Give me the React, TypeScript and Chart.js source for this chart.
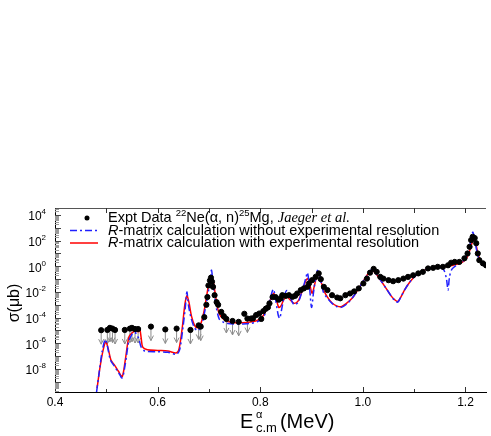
import React, { useEffect, useRef } from "react";
import { Chart, registerables } from "chart.js";

Chart.register(...registerables);

// ---------- data ----------
const redE = [0.482, 0.488, 0.494, 0.499, 0.503, 0.509, 0.516, 0.524, 0.531, 0.537, 0.544, 0.55, 0.557, 0.562, 0.565, 0.568, 0.571, 0.58, 0.6, 0.62, 0.637, 0.642, 0.648, 0.653, 0.657, 0.661, 0.666, 0.672, 0.677, 0.683, 0.69, 0.696, 0.701, 0.705, 0.709, 0.714, 0.72, 0.728, 0.737, 0.75, 0.765, 0.78, 0.795, 0.805, 0.812, 0.818, 0.823, 0.826, 0.83, 0.836, 0.84, 0.846, 0.852, 0.858, 0.866, 0.874, 0.882, 0.889, 0.893, 0.897, 0.901, 0.905, 0.91, 0.914, 0.918, 0.924, 0.931, 0.94, 0.95, 0.958, 0.968, 0.979, 0.99, 1.0, 1.008, 1.014, 1.018, 1.024, 1.035, 1.045, 1.055, 1.062, 1.068, 1.074, 1.082, 1.092, 1.104, 1.114, 1.125, 1.135, 1.15, 1.165, 1.178, 1.191, 1.2, 1.206, 1.211, 1.215, 1.218, 1.221, 1.225, 1.23, 1.236, 1.242];
const redV = [3.2e-10, 1.6e-8, 3.2e-7, 1.3e-6, 5e-7, 5e-8, 2e-8, 6.3e-9, 2.5e-9, 5e-8, 3.2e-6, 6.3e-6, 1e-5, 7.9e-6, 1.4e-5, 2.5e-6, 5e-7, 3.2e-7, 2.8e-7, 2.5e-7, 1.8e-7, 4e-7, 1.6e-5, 1e-3, 5e-3, 1.6e-3, 1.3e-4, 2.5e-5, 1.6e-5, 2.5e-5, 2.5e-4, 6.3e-3, 7.9e-2, 0.16, 5e-2, 2.5e-3, 2e-4, 7.9e-5, 5e-5, 4e-5, 4e-5, 4.5e-5, 6.3e-5, 1.3e-4, 4e-4, 1.6e-3, 5e-3, 7.9e-3, 4e-3, 6.3e-4, 7.9e-4, 2.5e-3, 4e-3, 2.5e-3, 1.3e-3, 2e-3, 1.3e-2, 7.9e-2, 0.11, 3.2e-2, 7.9e-3, 2.5e-2, 0.16, 0.28, 7.9e-2, 1.3e-2, 4e-3, 1.4e-3, 7.9e-4, 7.1e-4, 1.3e-3, 3.2e-3, 1.4e-2, 6.3e-2, 0.2, 0.4, 0.5, 0.32, 7.9e-2, 2e-2, 5e-3, 2.5e-3, 1.8e-3, 4e-3, 1.6e-2, 6.3e-2, 0.2, 0.37, 0.63, 0.79, 0.89, 1.0, 1.26, 1.8, 3.2, 8.9, 40, 100, 100, 40, 7.9, 2.2, 1.26, 0.89];

const blueE = [0.481, 0.486, 0.492, 0.498, 0.502, 0.508, 0.516, 0.524, 0.531, 0.537, 0.544, 0.55, 0.555, 0.558, 0.563, 0.568, 0.575, 0.6, 0.62, 0.637, 0.643, 0.649, 0.654, 0.657, 0.66, 0.665, 0.672, 0.678, 0.685, 0.692, 0.698, 0.702, 0.705, 0.708, 0.713, 0.72, 0.728, 0.737, 0.75, 0.765, 0.78, 0.795, 0.805, 0.812, 0.818, 0.823, 0.826, 0.83, 0.835, 0.838, 0.842, 0.847, 0.852, 0.857, 0.866, 0.874, 0.882, 0.889, 0.892, 0.896, 0.9, 0.904, 0.909, 0.913, 0.917, 0.923, 0.931, 0.94, 0.95, 0.958, 0.968, 0.979, 0.99, 1.0, 1.008, 1.014, 1.018, 1.024, 1.035, 1.045, 1.055, 1.062, 1.068, 1.074, 1.082, 1.092, 1.104, 1.114, 1.125, 1.135, 1.15, 1.158, 1.163, 1.166, 1.169, 1.174, 1.185, 1.195, 1.203, 1.209, 1.214, 1.217, 1.221, 1.226, 1.232, 1.238, 1.242];
const blueV = [1.6e-10, 5e-9, 2.5e-7, 2e-6, 6.3e-7, 5e-8, 1.6e-8, 5e-9, 2e-9, 2.5e-8, 1.6e-6, 5e-6, 2e-5, 5e-6, 2.5e-6, 5e-7, 2.5e-7, 2.2e-7, 2e-7, 1.4e-7, 3.2e-7, 1.3e-5, 6.3e-4, 1e-2, 1e-3, 1e-4, 1.6e-5, 1e-5, 2e-5, 3.2e-4, 6.3e-3, 6.3e-2, 0.5, 4e-2, 1.3e-3, 7.9e-5, 4.5e-5, 3.5e-5, 3.2e-5, 3.2e-5, 3.5e-5, 5e-5, 1e-4, 3.2e-4, 1.6e-3, 1e-2, 1.6e-2, 2.5e-3, 1.6e-4, 8.9e-5, 5e-4, 5e-3, 1.3e-2, 5e-3, 1e-3, 1.6e-3, 1.3e-2, 0.13, 0.32, 2.5e-2, 6.3e-4, 1e-2, 0.2, 0.58, 0.13, 1e-2, 3.2e-3, 1.3e-3, 7.1e-4, 6.3e-4, 1.1e-3, 3.2e-3, 1.4e-2, 6.3e-2, 0.2, 0.45, 0.5, 0.32, 7.9e-2, 2e-2, 5e-3, 2.2e-3, 1.6e-3, 4e-3, 1.6e-2, 6.3e-2, 0.2, 0.37, 0.63, 0.79, 0.79, 0.5, 0.1, 1.4e-2, 0.16, 0.63, 1.4, 2.5, 7.9, 50, 450, 200, 25, 4, 1.6, 0.89, 0.79];

const exptE = [0.691, 0.695, 0.697, 0.699, 0.702, 0.704, 0.706, 0.708, 0.711, 0.715, 0.718, 0.724, 0.729, 0.769, 0.782, 0.786, 0.792, 0.798, 0.802, 0.806, 0.811, 0.815, 0.818, 0.824, 0.83, 0.836, 0.84, 0.843, 0.85, 0.856, 0.863, 0.868, 0.872, 0.879, 0.885, 0.892, 0.895, 0.901, 0.908, 0.914, 0.918, 0.924, 0.931, 0.94, 0.95, 0.956, 0.966, 0.975, 0.983, 0.992, 1.001, 1.008, 1.014, 1.021, 1.027, 1.034, 1.04, 1.05, 1.059, 1.069, 1.079, 1.088, 1.098, 1.108, 1.117, 1.127, 1.137, 1.146, 1.156, 1.166, 1.172, 1.179, 1.188, 1.198, 1.204, 1.208, 1.211, 1.214, 1.218, 1.221, 1.224, 1.227, 1.234, 1.24];
const exptV = [1.1e-4, 1e-3, 4e-3, 3.2e-2, 7.9e-2, 0.13, 6.3e-2, 2.5e-2, 5.6e-3, 1.6e-3, 1e-3, 2.8e-4, 1.3e-4, 2e-4, 8.5e-5, 8.9e-5, 1.6e-4, 2.1e-4, 7.9e-5, 3.2e-4, 5e-4, 6.3e-4, 1.3e-3, 4e-3, 4e-3, 2.5e-3, 3.2e-3, 5.6e-3, 5e-3, 5.6e-3, 4.2e-3, 5e-3, 7.6e-3, 1.4e-2, 1.9e-2, 2.5e-2, 4.6e-2, 8.3e-2, 0.15, 0.28, 0.1, 2.5e-2, 1.4e-2, 5.6e-3, 3.7e-3, 3.2e-3, 5.6e-3, 7.6e-3, 1.1e-2, 1.9e-2, 4.6e-2, 0.11, 0.32, 0.63, 0.37, 0.15, 0.11, 8.3e-2, 6.9e-2, 8.3e-2, 0.11, 0.15, 0.2, 0.28, 0.37, 0.68, 0.76, 0.91, 0.91, 1.2, 1.9, 2.2, 2.2, 4.2, 10, 33, 110, 200, 160, 63, 10, 3, 1.7, 1.2];

// upper limits (drawn with downward arrows)
const limE = [0.49, 0.502, 0.507, 0.512, 0.517, 0.536, 0.546, 0.55, 0.556, 0.562, 0.587, 0.615, 0.637, 0.664, 0.68, 0.684, 0.734, 0.746, 0.758, 0.775];
const limV = [1.05e-5, 1.1e-5, 1.6e-5, 1.4e-5, 1.1e-5, 1.1e-5, 1.4e-5, 1.6e-5, 1.3e-5, 1.3e-5, 2e-5, 1.2e-5, 1.4e-5, 1.1e-5, 2.5e-5, 2e-5, 7.9e-5, 5.5e-5, 4.7e-5, 8.5e-5];

const xTicks = [0.4, 0.6, 0.8, 1.0, 1.2];
const xAllTicks = [0.4, 0.5, 0.6, 0.7, 0.8, 0.9, 1.0, 1.1, 1.2];
const yTickExps = [-8, -6, -4, -2, 0, 2, 4];
const yDecades = [-10, -9, -8, -7, -6, -5, -4, -3, -2, -1, 0, 1, 2, 3, 4];

const SANS = '"Liberation Sans", Arial, sans-serif';
const SERIF = '"Liberation Serif", "Times New Roman", serif';

type Seg = { t: string; f: string; dy?: number };

function drawSegs(ctx: CanvasRenderingContext2D, segs: Seg[], x: number, y: number) {
  let cx = x;
  for (const s of segs) {
    ctx.font = s.f;
    ctx.fillText(s.t, cx, y + (s.dy || 0));
    cx += ctx.measureText(s.t).width;
  }
  return cx;
}

const overlay = {
  id: "overlay",
  beforeDatasetsDraw(chart: any) {
    const { ctx, scales } = chart;
    const xs = scales.x, ys = scales.y;
    ctx.save();
    ctx.strokeStyle = "#8c8c8c";
    ctx.lineWidth = 1;
    for (let i = 0; i < limE.length; i++) {
      const px = xs.getPixelForValue(limE[i]);
      const py = ys.getPixelForValue(limV[i]);
      ctx.beginPath();
      ctx.moveTo(px, py + 2);
      ctx.lineTo(px, py + 14);
      ctx.moveTo(px - 2.5, py + 9);
      ctx.lineTo(px, py + 14);
      ctx.lineTo(px + 2.5, py + 9);
      ctx.stroke();
    }
    ctx.restore();
  },
  afterDraw(chart: any) {
    const { ctx, scales, chartArea } = chart;
    const xs = scales.x, ys = scales.y;
    const { left, right, top, bottom } = chartArea;
    ctx.save();
    // top frame
    ctx.strokeStyle = "#555";
    ctx.lineWidth = 1;
    ctx.beginPath();
    ctx.moveTo(left, top + 0.5);
    ctx.lineTo(right, top + 0.5);
    ctx.stroke();
    // x ticks (inward) bottom & top
    ctx.strokeStyle = "#333";
    for (const v of xAllTicks) {
      const px = Math.round(xs.getPixelForValue(v)) + 0.5;
      const major = xTicks.some((t) => Math.abs(t - v) < 1e-9);
      ctx.beginPath();
      ctx.moveTo(px, bottom);
      ctx.lineTo(px, bottom - (major ? 5 : 3));
      ctx.moveTo(px, top);
      ctx.lineTo(px, top + 5);
      ctx.stroke();
    }
    // y ticks (inward), dense minor ticks
    for (const d of yDecades) {
      for (let m = 1; m <= 9; m++) {
        const val = m * Math.pow(10, d);
        const py = ys.getPixelForValue(val);
        if (py < top || py > bottom) continue;
        const y0 = Math.round(py) + 0.5;
        ctx.strokeStyle = m === 1 ? "#444" : "#9a9a9a";
        ctx.beginPath();
        ctx.moveTo(left, y0);
        ctx.lineTo(left + (m === 1 ? 6 : 4), y0);
        ctx.stroke();
      }
    }
    // y tick labels 10^n
    ctx.fillStyle = "#000";
    ctx.textBaseline = "middle";
    for (const e of yTickExps) {
      const py = ys.getPixelForValue(Math.pow(10, e));
      const exp = String(e);
      ctx.font = "8px " + SANS;
      const we = ctx.measureText(exp).width;
      ctx.font = "12px " + SANS;
      const wb = ctx.measureText("10").width;
      const xr = 46;
      ctx.textAlign = "left";
      ctx.fillText("10", xr - we - wb, py + 2);
      ctx.font = "8px " + SANS;
      ctx.fillText(exp, xr - we, py - 3);
    }
    // y title
    ctx.save();
    ctx.translate(15, (top + bottom) / 2 + 3);
    ctx.rotate(-Math.PI / 2);
    ctx.textAlign = "center";
    ctx.font = "16px " + SANS;
    ctx.fillText("σ(μb)", 0, 0);
    ctx.restore();
    // x title
    ctx.textAlign = "left";
    ctx.textBaseline = "alphabetic";
    const by = 428;
    ctx.font = "20px " + SANS;
    ctx.fillText("E", 240, by);
    ctx.font = "11px " + SANS;
    ctx.fillText("α", 256, by - 10);
    ctx.font = "13px " + SANS;
    ctx.fillText("c.m", 256, by + 4);
    const subEnd = 256 + ctx.measureText("c.m").width;
    ctx.font = "20px " + SANS;
    ctx.fillText("(MeV)", subEnd + 3, by);

    // legend
    ctx.textBaseline = "middle";
    const tx = 108;
    const rows = [218, 230.5, 243];
    const lf = "14.5px " + SANS;
    ctx.fillStyle = "#000";
    ctx.beginPath();
    ctx.arc(87, rows[0], 2.5, 0, Math.PI * 2);
    ctx.fill();
    drawSegs(ctx, [
      { t: "Expt Data ", f: lf },
      { t: "22", f: "9.5px " + SANS, dy: -5 },
      { t: "Ne(α, n)", f: lf },
      { t: "25", f: "9.5px " + SANS, dy: -5 },
      { t: "Mg, ", f: lf },
      { t: "Jaeger et al.", f: "italic 14.5px " + SERIF },
    ], tx, rows[0]);
    ctx.strokeStyle = "#2020ff";
    ctx.lineWidth = 1.5;
    ctx.setLineDash([7, 3, 2, 3]);
    ctx.beginPath();
    ctx.moveTo(70, rows[1]);
    ctx.lineTo(98, rows[1]);
    ctx.stroke();
    ctx.setLineDash([]);
    drawSegs(ctx, [
      { t: "R", f: "italic " + lf },
      { t: "-matrix calculation without experimental resolution", f: lf },
    ], tx, rows[1]);
    ctx.strokeStyle = "#ff0000";
    ctx.beginPath();
    ctx.moveTo(70, rows[2]);
    ctx.lineTo(98, rows[2]);
    ctx.stroke();
    drawSegs(ctx, [
      { t: "R", f: "italic " + lf },
      { t: "-matrix calculation with experimental resolution", f: lf },
    ], tx, rows[2]);
    ctx.restore();
  },
};

export default function App() {
  const ref = useRef<HTMLCanvasElement | null>(null);
  useEffect(() => {
    if (!ref.current) return;
    const chart = new Chart(ref.current, {
      type: "scatter",
      data: {
        datasets: [
          {
            label: "Expt Data",
            data: exptE.map((x, i) => ({ x, y: exptV[i] })),
            backgroundColor: "#000",
            borderColor: "#000",
            pointRadius: 2.6,
            showLine: false,
            order: 0,
          },
          {
            label: "Upper limits",
            data: limE.map((x, i) => ({ x, y: limV[i] })),
            backgroundColor: "#000",
            borderColor: "#000",
            pointRadius: 2.6,
            showLine: false,
            order: 0,
          },
          {
            label: "R-matrix calculation without experimental resolution",
            data: blueE.map((x, i) => ({ x, y: blueV[i] })),
            borderColor: "#2020ff",
            borderWidth: 1.5,
            borderDash: [7, 3, 2, 3],
            pointRadius: 0,
            showLine: true,
            tension: 0.3,
            order: 1,
          },
          {
            label: "R-matrix calculation with experimental resolution",
            data: redE.map((x, i) => ({ x, y: redV[i] })),
            borderColor: "#ff0000",
            borderWidth: 1.5,
            pointRadius: 0,
            showLine: true,
            tension: 0.3,
            order: 2,
          },
        ],
      },
      options: {
        responsive: false,
        animation: false,
        layout: { padding: { top: 208, left: 0, right: 0, bottom: 0 } },
        plugins: { legend: { display: false }, tooltip: { enabled: false } },
        scales: {
          x: {
            type: "linear",
            min: 0.4,
            max: 1.24,
            afterFit: (s: any) => { s.height = 44; },
            afterBuildTicks: (s: any) => { s.ticks = xTicks.map((v) => ({ value: v })); },
            grid: { display: false, drawTicks: false },
            border: { display: true, color: "#000", width: 1 },
            ticks: {
              autoSkip: false,
              maxRotation: 0,
              padding: 3,
              color: "#000",
              font: { family: SANS, size: 12 },
              callback: (v: any) => Number(v).toFixed(1),
            },
          },
          y: {
            type: "logarithmic",
            min: 1.6e-10,
            max: 3.5e4,
            afterFit: (s: any) => { s.width = 55; },
            grid: { display: false, drawTicks: false },
            border: { display: true, color: "#000", width: 1 },
            ticks: { display: false },
          },
        },
      },
      plugins: [overlay],
    });
    return () => chart.destroy();
  }, []);
  return (
    <canvas
      ref={ref}
      width={491}
      height={436}
      style={{ position: "absolute", left: 0, top: 0, width: 491, height: 436, display: "block" }}
    />
  );
}
